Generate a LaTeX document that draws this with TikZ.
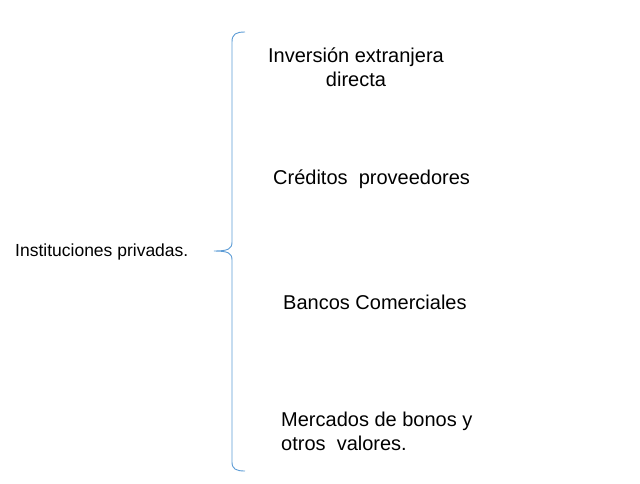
\documentclass[tikz,border=0pt]{standalone}
\usepackage{fontspec}
\setmainfont{Liberation Sans}
\definecolor{bracecol}{HTML}{5B9BD5}
\begin{document}
\begin{tikzpicture}[x=1pt,y=-1pt,
  item/.style={font=\fontsize{20}{24}\selectfont, inner sep=0pt, align=left}]
\useasboundingbox (0,0) rectangle (640,483);
% brace
\draw[bracecol, line width=0.9pt] (245,32) .. controls (236,32) and (232,34) .. (232,42)
  -- (232,242) .. controls (232,249) and (228,251) .. (214,251)
  .. controls (228,251) and (232,253) .. (232,260)
  -- (232,462) .. controls (232,469) and (236,471) .. (245,471);
\node[font=\fontsize{17.5}{20}\selectfont, inner sep=0pt, anchor=west] (inst) at (15,252) {Instituciones privadas.};
\node[item, align=center] (ied) at (356,67) {Inversión extranjera\\directa};
\node[item, anchor=west] (cred) at (273,179) {Créditos\ \ proveedores};
\node[item, anchor=west] (banc) at (283,302) {Bancos Comerciales};
\node[item, anchor=west] (merc) at (281,431) {Mercados de bonos y\\otros\ \ valores.};
\end{tikzpicture}
\end{document}
